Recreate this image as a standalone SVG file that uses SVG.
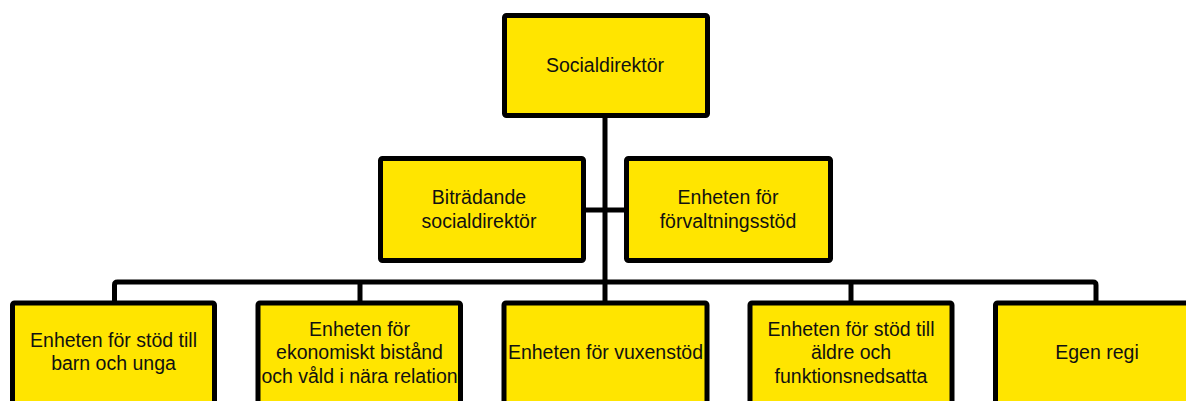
<svg xmlns="http://www.w3.org/2000/svg" width="1186" height="401" viewBox="0 0 1186 401">
<style>
.box{fill:#FFE500;stroke:#000;stroke-width:5;}
.t{font-family:"Liberation Sans",Arial,sans-serif;font-size:19.5px;fill:#111;text-anchor:middle;}
.c{fill:none;stroke:#000;stroke-width:5;stroke-linejoin:round;}
</style>
<rect width="1186" height="401" fill="#fff"/>
<g id="connectors">
<path class="c" d="M605 118 V282"/>
<path class="c" d="M586 210 H624"/>
<path class="c" d="M114.5 303 V285 Q114.5 282 117.5 282 H1093 Q1096 282 1096 285 V303"/>
<path class="c" d="M360 282 V303"/>
<path class="c" d="M605 282 V303"/>
<path class="c" d="M851 282 V303"/>
</g>
<g id="socialdirektor">
<rect class="box" x="504.5" y="15.5" width="203" height="100" rx="2"/>
<text class="t" x="605" y="72">Socialdirektör</text>
</g>
<g id="bitradande">
<rect class="box" x="380.5" y="158.5" width="203" height="102" rx="2"/>
<text class="t" x="479" y="204">Biträdande</text>
<text class="t" x="479" y="228">socialdirektör</text>
</g>
<g id="forvaltningsstod">
<rect class="box" x="626.5" y="158.5" width="204" height="102" rx="2"/>
<text class="t" x="728" y="204">Enheten för</text>
<text class="t" x="728" y="228">förvaltningsstöd</text>
</g>
<g id="barn">
<rect class="box" x="12.5" y="303" width="202" height="130" rx="2"/>
<text class="t" x="113.5" y="347">Enheten för stöd till</text>
<text class="t" x="113.5" y="370">barn och unga</text>
</g>
<g id="ekonomiskt">
<rect class="box" x="258" y="303" width="202.5" height="130" rx="2"/>
<text class="t" x="359.5" y="336">Enheten för</text>
<text class="t" x="359.5" y="359">ekonomiskt bistånd</text>
<text class="t" x="359.5" y="383">och våld i nära relation</text>
</g>
<g id="vuxenstod">
<rect class="box" x="504" y="303" width="203" height="130" rx="2"/>
<text class="t" x="605.5" y="359">Enheten för vuxenstöd</text>
</g>
<g id="aldre">
<rect class="box" x="750" y="303" width="202" height="130" rx="2"/>
<text class="t" x="851" y="336">Enheten för stöd till</text>
<text class="t" x="851" y="359">äldre och</text>
<text class="t" x="851" y="383">funktionsnedsatta</text>
</g>
<g id="egenregi">
<rect class="box" x="995.5" y="303" width="203" height="130" rx="2"/>
<text class="t" x="1097" y="359">Egen regi</text>
</g>
</svg>
